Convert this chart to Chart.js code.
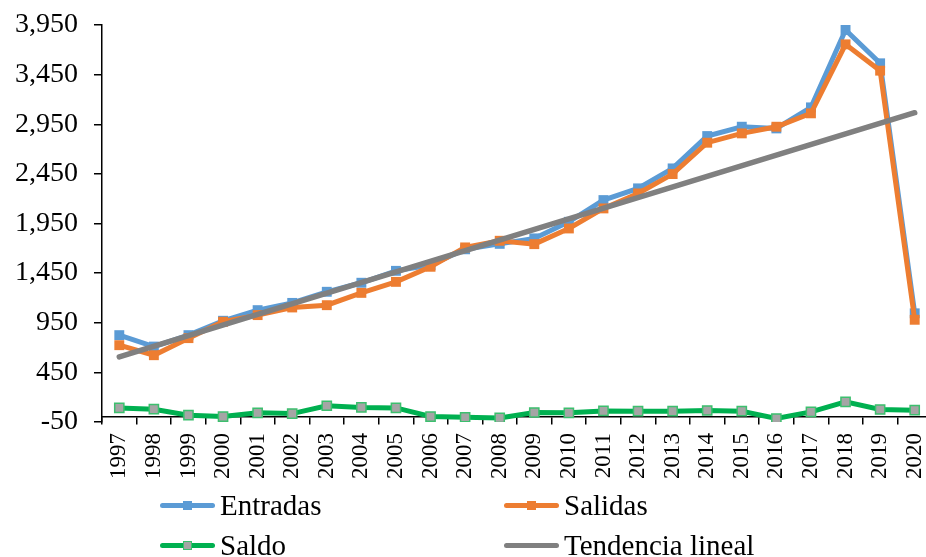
<!DOCTYPE html>
<html>
<head>
<meta charset="utf-8">
<script src="https://cdn.jsdelivr.net/npm/chart.js@4"></script>
<style>
  html, body { margin: 0; padding: 0; background: #fff; overflow: hidden; }
  #wrap { position: relative; width: 926px; height: 557px; overflow: hidden; }
  #chart { position: absolute; left: 0; top: 0; }
  .item { position: absolute; display: flex; align-items: center; white-space: nowrap;
          font-family: 'Liberation Serif', 'Times New Roman', serif; font-size: 29px; color: #000; height: 32px; }
  .sample { position: relative; width: 55px; height: 5px; margin-right: 5px; border-radius: 3px; }
  .sample i { position: absolute; left: 23px; top: -2px; width: 9px; height: 9px; box-sizing: border-box; }
</style>
</head>
<body>
<div id="wrap">
  <canvas id="chart" width="940" height="557"></canvas>
  <div id="legend"></div>
</div>
<script>
const years = ['1997', '1998', '1999', '2000', '2001', '2002', '2003', '2004', '2005', '2006', '2007', '2008',
               '2009', '2010', '2011', '2012', '2013', '2014', '2015', '2016', '2017', '2018', '2019', '2020'];
const entradas = [825, 710, 825, 970, 1077, 1150, 1262, 1353, 1473, 1530, 1690, 1745,
                  1800, 1967, 2186, 2304, 2505, 2831, 2925, 2908, 3120, 3900, 3564, 1045];
const salidas = [724, 623, 795, 960, 1027, 1104, 1127, 1251, 1362, 1514, 1709, 1776,
                 1742, 1900, 2102, 2253, 2448, 2764, 2858, 2925, 3060, 3755, 3490, 980];
const saldo = [92, 79, 19, 5, 42, 35, 114, 97, 92, 5, -2, -9,
               46, 42, 62, 59, 59, 66, 59, -15, 52, 153, 76, 69];
// trend line read at its two ends (1997 and 2020), drawn straight between them
const tendencia = [606, null, null, null, null, null, null, null, null, null, null, null,
                   null, null, null, null, null, null, null, null, null, null, null, 3066];
const yTicks = [-50, 450, 950, 1450, 1950, 2450, 2950, 3450, 3950];

const BLUE = '#5B9BD5', ORANGE = '#ED7D31', GREEN = '#00B050', GRAY = '#808080';

Chart.defaults.font.family = "'Liberation Serif', 'Times New Roman', serif";
Chart.defaults.color = '#000';

const ctx = document.getElementById('chart').getContext('2d');
const chart = new Chart(ctx, {
    type: 'line',
    data: {
        labels: years,
        datasets: [
            { label: 'Entradas', data: entradas, borderColor: BLUE, backgroundColor: BLUE, borderWidth: 5,
              pointStyle: 'rect', pointRadius: 7, pointBorderWidth: 0, order: 3 },
            { label: 'Salidas', data: salidas, borderColor: ORANGE, backgroundColor: ORANGE, borderWidth: 5,
              pointStyle: 'rect', pointRadius: 7, pointBorderWidth: 0, order: 2 },
            { label: 'Saldo', data: saldo, borderColor: GREEN, backgroundColor: '#A5A5A5', borderWidth: 5,
              pointStyle: 'rect', pointRadius: 6.5, pointBorderColor: '#3CBF6E', pointBorderWidth: 1.5, order: 1 },
            { label: 'Tendencia lineal', data: tendencia, borderColor: GRAY, borderWidth: 5.5, borderCapStyle: 'round',
              pointRadius: 0, spanGaps: true, order: 0 }
        ]
    },
    options: {
        responsive: false,
        animation: false,
        layout: { padding: { left: 0, right: 8, top: 25, bottom: 135 } },
        plugins: { legend: { display: false }, tooltip: { enabled: false } },
        elements: { line: { tension: 0 } },
        scales: {
            x: {
                position: { y: 0 },
                offset: true,
                afterFit: axis => { axis.paddingLeft = 0; axis.paddingRight = 0; },
                grid: { offset: true, drawOnChartArea: false, tickLength: 7, color: '#000', lineWidth: 1.5 },
                border: { color: '#000', width: 1.5 },
                ticks: { autoSkip: false, maxRotation: 90, minRotation: 90, padding: 9, font: { size: 23 } }
            },
            y: {
                min: -50,
                max: 3950,
                afterBuildTicks: axis => { axis.ticks = yTicks.map(v => ({ value: v })); },
                afterFit: axis => { axis.width = 102; axis.paddingTop = 0; axis.paddingBottom = 0; },
                grid: { drawOnChartArea: false, tickLength: 8, color: '#000', lineWidth: 1.5 },
                border: { color: '#000', width: 1.5 },
                ticks: { padding: 16, font: { size: 28 }, callback: v => v.toLocaleString('en-US') }
            }
        }
    }
});

// legend in two columns, like the original
const legendPos = [[160, 489], [504, 489], [160, 529], [504, 529]];
const legend = document.getElementById('legend');
chart.data.datasets.forEach((ds, i) => {
    const item = document.createElement('div');
    item.className = 'item';
    item.style.left = legendPos[i][0] + 'px';
    item.style.top = legendPos[i][1] + 'px';
    let marker = '';
    if (ds.pointRadius > 0) {
        const border = ds.pointBorderWidth ? `border:1.5px solid ${ds.pointBorderColor};` : '';
        marker = `<i style="background:${ds.backgroundColor};${border}"></i>`;
    }
    item.innerHTML = `<span class="sample" style="background:${ds.borderColor}">${marker}</span>${ds.label}`;
    legend.appendChild(item);
});
</script>
</body>
</html>
